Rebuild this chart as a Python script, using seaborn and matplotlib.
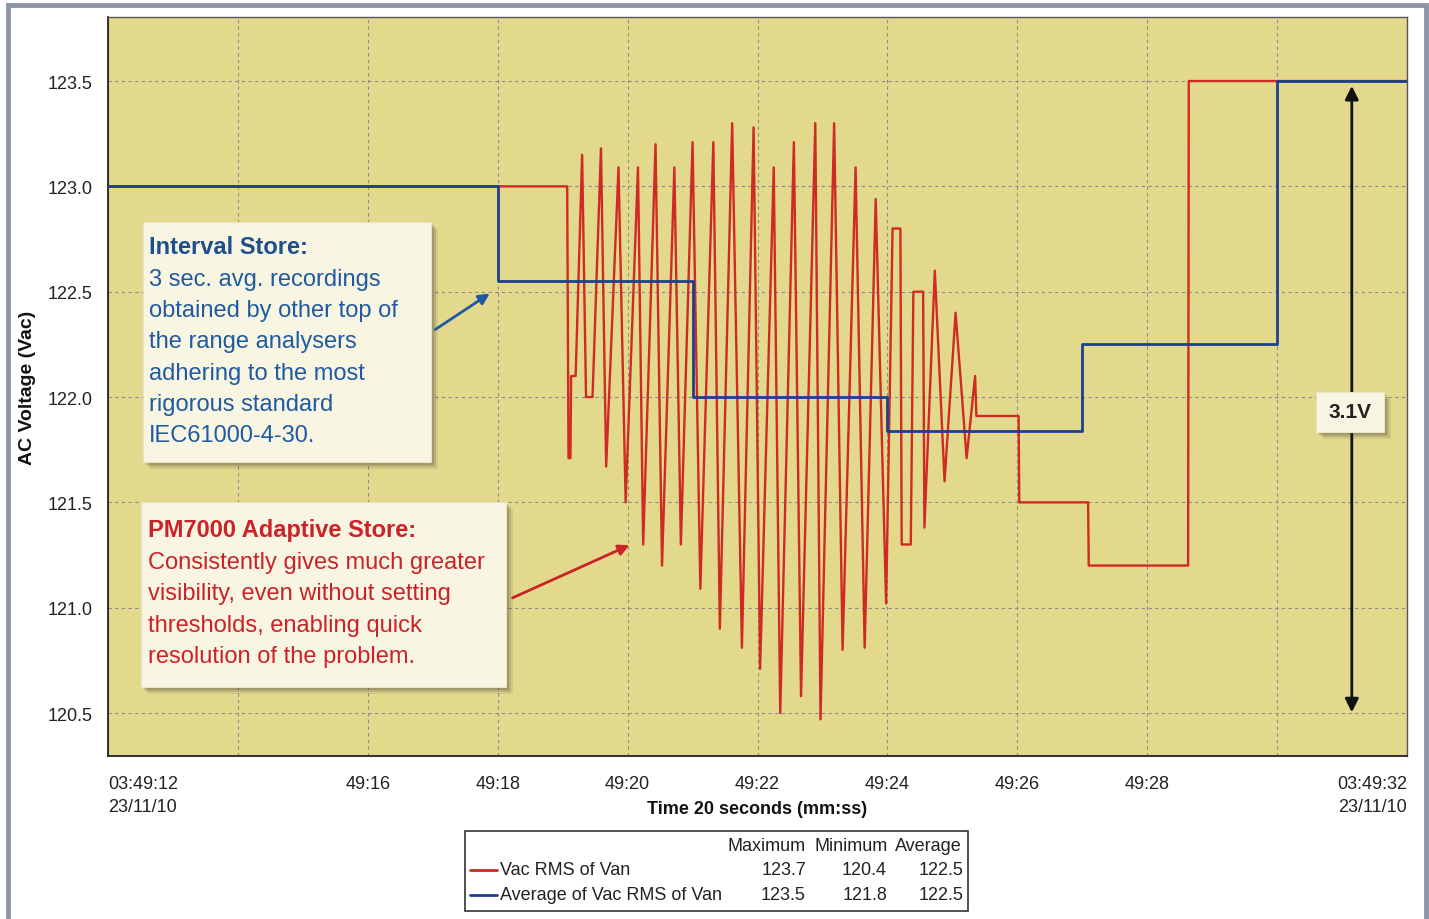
import matplotlib
matplotlib.use("Agg")
import matplotlib.pyplot as plt
import seaborn as sns
from matplotlib import font_manager
from matplotlib.patches import Rectangle
from matplotlib.lines import Line2D

# red trace: Vac RMS of Van (seconds after 03:49:00, volts)
red_t = [12.00, 19.07, 19.09, 19.12, 19.13, 19.20, 19.30, 19.36, 19.46, 19.59,
         19.67, 19.86, 19.97, 20.16, 20.24, 20.43, 20.53, 20.72, 20.82, 21.00,
         21.12, 21.32, 21.42, 21.61, 21.76, 21.94, 22.04, 22.25, 22.35, 22.56,
         22.67, 22.89, 22.97, 23.18, 23.31, 23.51, 23.65, 23.82, 23.98, 24.08,
         24.20, 24.22, 24.36, 24.40, 24.55, 24.57, 24.73, 24.88, 25.05, 25.22,
         25.35, 25.37, 26.02, 26.03, 27.09, 27.10, 28.63, 28.64, 32.00]
red_v = [123.00, 123.00, 121.71, 121.71, 122.10, 122.10, 123.15, 122.00, 122.00, 123.18,
         121.67, 123.09, 121.50, 123.09, 121.30, 123.20, 121.20, 123.09, 121.30, 123.21,
         121.09, 123.21, 120.90, 123.30, 120.81, 123.28, 120.71, 123.09, 120.50, 123.21,
         120.58, 123.30, 120.47, 123.30, 120.80, 123.09, 120.81, 122.94, 121.02, 122.80,
         122.80, 121.30, 121.30, 122.50, 122.50, 121.38, 122.60, 121.60, 122.40, 121.71,
         122.10, 121.91, 121.91, 121.50, 121.50, 121.20, 121.20, 123.50, 123.50]

# blue trace: 3 second interval average
blue_t = [12, 15, 18, 21, 24, 27, 30, 32]
blue_v = [123.0, 123.0, 122.55, 122.0, 121.84, 122.25, 123.5, 123.5]

x_ticks = [12, 14, 16, 18, 20, 22, 24, 26, 28, 30, 32]
x_labels = ["03:49:12\n23/11/10", "", "49:16", "49:18", "49:20", "49:22",
            "49:24", "49:26", "49:28", "", "03:49:32\n23/11/10"]
y_ticks = [120.5, 121.0, 121.5, 122.0, 122.5, 123.0, 123.5]

legend_names = ["Vac RMS of Van", "Average of Vac RMS of Van"]
legend_max = ["123.7", "123.5"]
legend_min = ["120.4", "121.8"]
legend_avg = ["122.5", "122.5"]

interval_title = "Interval Store:"
interval_lines = ["3 sec. avg. recordings", "obtained by other top of",
                  "the range analysers", "adhering to the most",
                  "rigorous standard", "IEC61000-4-30."]
pm_title = "PM7000 Adaptive Store:"
pm_lines = ["Consistently gives much greater", "visibility, even without setting",
            "thresholds, enabling quick", "resolution of the problem."]

RED = "#cf2a24"
BLUE = "#1d3f8f"
BG = "#e3d98c"
CREAM = "#f8f6e2"
TXT_BLUE = "#1f5aa2"
TXT_RED = "#cc2227"

sns.set_style("white")
plt.rcParams["font.family"] = ["Liberation Sans", "DejaVu Sans"]
names = {f.name for f in font_manager.fontManager.ttflist}
if "Liberation Sans Narrow" in names:
    NARROW = ["Liberation Sans Narrow", "Liberation Sans"]
    nsize = 15
else:
    NARROW = ["Liberation Sans", "DejaVu Sans"]
    nsize = 13

W, H = 1429, 920
fig = plt.figure(figsize=(W / 100, H / 100), dpi=100)
fig.patch.set_facecolor("white")
ax = fig.add_axes([108 / W, 1 - 757 / H, 1299 / W, 739 / H])
ax.set_facecolor(BG)

sns.lineplot(x=red_t, y=red_v, ax=ax, color=RED, lw=1.7, sort=False,
             estimator=None, zorder=3)
sns.lineplot(x=blue_t, y=blue_v, ax=ax, color=BLUE, lw=2.0, sort=False,
             estimator=None, drawstyle="steps-post", zorder=4)

ax.set_xlim(12, 32)
ax.set_ylim(120.296, 123.804)
ax.set_xticks(x_ticks)
ax.set_xticklabels(x_labels, family=NARROW, fontsize=nsize, color="#222222")
labs = ax.get_xticklabels()
for lab in labs:
    lab.set_linespacing(1.45)
labs[0].set_ha("left")
labs[-1].set_ha("right")
ax.set_yticks(y_ticks)
ax.set_yticklabels([f"{v:.1f}" for v in y_ticks], family=NARROW, fontsize=nsize,
                   color="#222222")
ax.tick_params(axis="x", direction="out", length=12, width=1, color="#333333", pad=2)
ax.tick_params(axis="y", direction="out", length=6, width=1, color="#333333", pad=5)
ax.grid(True, color="#8c8c8c", lw=0.8, ls=(0, (3, 3)))
for side in ["top", "right"]:
    ax.spines[side].set_color("#555555")
    ax.spines[side].set_linewidth(1.0)
for side in ["left", "bottom"]:
    ax.spines[side].set_color("#222222")
    ax.spines[side].set_linewidth(1.3)

ax.set_ylabel("AC Voltage (Vac)", fontsize=14, fontweight="bold", color="#111111")
ax.yaxis.set_label_coords((28 - 108) / 1299, 0.5)
ax.yaxis.label.set_va("center")
ax.set_xlabel("Time 20 seconds (mm:ss)", family=NARROW, fontsize=nsize,
              fontweight="bold", color="#111111")
ax.xaxis.set_label_coords(0.5, (757 - 810) / 739)
ax.xaxis.label.set_va("center")


def axf(x, y):
    return (x - 108) / 1299, (757 - y) / 739


def box(x0, y0, x1, y1):
    for off, a in [(7, 0.10), (5, 0.15), (3, 0.2)]:
        sx, sy = axf(x0 + off, y1 + off)
        ex, ey = axf(x1 + off, y0 + off)
        ax.add_patch(Rectangle((sx, sy), ex - sx, ey - sy, transform=ax.transAxes,
                               facecolor="#333333", alpha=a, lw=0, zorder=6))
    bx, by = axf(x0, y1)
    ex, ey = axf(x1, y0)
    ax.add_patch(Rectangle((bx, by), ex - bx, ey - by, transform=ax.transAxes,
                           facecolor=CREAM, edgecolor="#e8e4c4", lw=0.8, zorder=7))


# annotation arrows
ax.annotate("", xy=axf(492, 293), xytext=axf(433, 332), xycoords="axes fraction",
            textcoords="axes fraction",
            arrowprops=dict(arrowstyle="-|>", color=TXT_BLUE, lw=2, mutation_scale=16),
            zorder=8)
ax.annotate("", xy=axf(632, 545), xytext=axf(510, 600), xycoords="axes fraction",
            textcoords="axes fraction",
            arrowprops=dict(arrowstyle="-|>", color=TXT_RED, lw=2, mutation_scale=16),
            zorder=8)
ax.annotate("", xy=(31.15, 123.49), xytext=(31.15, 120.49),
            arrowprops=dict(arrowstyle="<|-|>", color="#111111", lw=2, mutation_scale=20),
            zorder=5)

box(143, 223, 431, 463)
ax.text(*axf(149, 248), interval_title, transform=ax.transAxes, fontsize=17,
        fontweight="bold", color="#1d4f90", va="center", ha="left", zorder=9)
for i, line in enumerate(interval_lines):
    ax.text(*axf(149, 280 + i * 31.2), line, transform=ax.transAxes, fontsize=17,
            color=TXT_BLUE, va="center", ha="left", zorder=9)

box(141, 503, 506, 688)
ax.text(*axf(148, 531), pm_title, transform=ax.transAxes, fontsize=17,
        fontweight="bold", color=TXT_RED, va="center", ha="left", zorder=9)
for i, line in enumerate(pm_lines):
    ax.text(*axf(148, 563 + i * 31.4), line, transform=ax.transAxes, fontsize=17,
            color=TXT_RED, va="center", ha="left", zorder=9)

box(1316, 393, 1384, 433)
ax.text(*axf(1350, 413), "3.1V", transform=ax.transAxes, fontsize=15,
        fontweight="bold", color="#222222", va="center", ha="center", zorder=9)


# legend table under the chart
def ff(x, y):
    return x / W, 1 - y / H


lx, ly = ff(465, 912)
lx2, ly2 = ff(968, 832)
fig.add_artist(Rectangle((lx, ly), lx2 - lx, ly2 - ly, transform=fig.transFigure,
                         facecolor="white", edgecolor="#333333", lw=1.2))
lsize = nsize + 0.5 if nsize > 14 else 13
for x, t in [(806, "Maximum"), (888, "Minimum"), (962, "Average")]:
    fig.text(*ff(x, 847), t, family=NARROW, fontsize=lsize, ha="right", va="center",
             color="#222222")
for i, (name, col) in enumerate(zip(legend_names, [RED, BLUE])):
    yy = 871 + i * 25
    fig.add_artist(Line2D([470 / W, 497 / W], [1 - yy / H] * 2, color=col, lw=2,
                          transform=fig.transFigure))
    fig.text(*ff(500, yy), name, family=NARROW, fontsize=lsize, ha="left",
             va="center", color="#222222")
    for x, v in [(806, legend_max[i]), (887, legend_min[i]), (963, legend_avg[i])]:
        fig.text(*ff(x, yy), v, family=NARROW, fontsize=lsize, ha="right",
                 va="center", color="#222222")

# outer grey frame
fx, fy = ff(8, 940)
fx2, fy2 = ff(1426, 6)
fig.add_artist(Rectangle((fx, fy), fx2 - fx, fy2 - fy, transform=fig.transFigure,
                         facecolor="none", edgecolor="#8d95a7", lw=3.5))

fig.savefig("out.png", dpi=100)
